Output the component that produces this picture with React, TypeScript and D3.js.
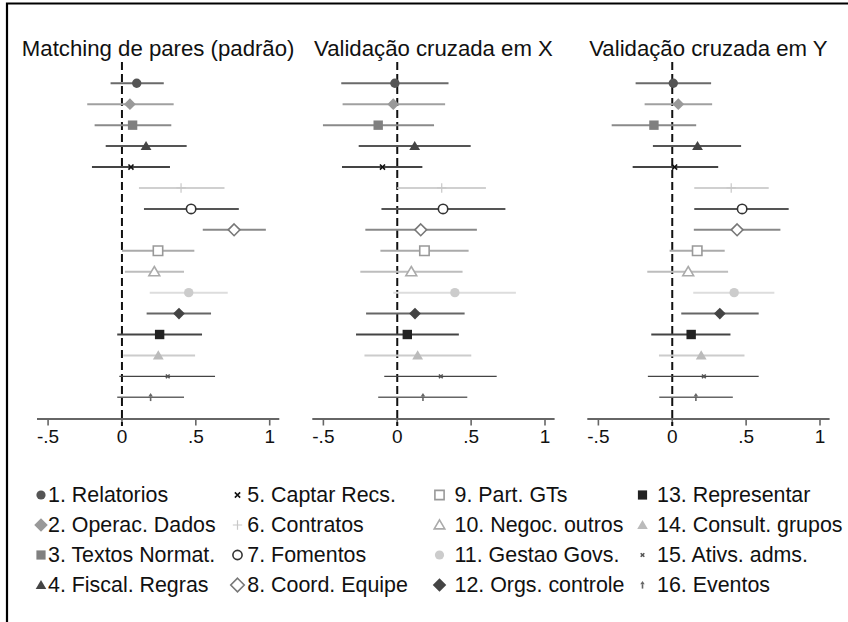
import React from "react";
import * as d3 from "d3";

const seriesLabels = [
  "1. Relatorios", "2. Operac. Dados", "3. Textos Normat.", "4. Fiscal. Regras",
  "5. Captar Recs.", "6. Contratos", "7. Fomentos", "8. Coord. Equipe",
  "9. Part. GTs", "10. Negoc. outros", "11. Gestao Govs.", "12. Orgs. controle",
  "13. Representar", "14. Consult. grupos", "15. Ativs. adms.", "16. Eventos",
];

const panelTitles = ["Matching de pares (padrão)", "Validação cruzada em X", "Validação cruzada em Y"];

const xTickValues = [-0.5, 0, 0.5, 1];
const xTickLabels = ["-.5", "0", ".5", "1"];

// Panel 1: Matching de pares (padrão)
const estMatching = [0.10, 0.054, 0.072, 0.163, 0.061, 0.40, 0.468, 0.759, 0.244, 0.219, 0.452, 0.386, 0.255, 0.246, 0.31, 0.194];
const loMatching = [-0.077, -0.235, -0.185, -0.11, -0.203, 0.115, 0.149, 0.547, 0.0, 0.02, 0.188, 0.167, -0.032, 0.009, -0.018, -0.032];
const hiMatching = [0.283, 0.35, 0.334, 0.438, 0.325, 0.694, 0.791, 0.974, 0.49, 0.42, 0.716, 0.603, 0.542, 0.495, 0.63, 0.42];

// Panel 2: Validação cruzada em X
const estCrossX = [-0.016, -0.027, -0.129, 0.118, -0.10, 0.301, 0.31, 0.159, 0.184, 0.095, 0.39, 0.12, 0.068, 0.138, 0.295, 0.174];
const loCrossX = [-0.379, -0.37, -0.503, -0.261, -0.374, 0.0, -0.107, -0.216, -0.114, -0.25, -0.027, -0.211, -0.279, -0.222, -0.088, -0.129];
const hiCrossX = [0.347, 0.324, 0.249, 0.497, 0.17, 0.60, 0.732, 0.539, 0.483, 0.442, 0.803, 0.456, 0.417, 0.501, 0.673, 0.474];

// Panel 3: Validação cruzada em Y
const estCrossY = [0.007, 0.041, -0.124, 0.171, 0.016, 0.399, 0.473, 0.439, 0.169, 0.108, 0.419, 0.322, 0.128, 0.196, 0.214, 0.16];
const loCrossY = [-0.248, -0.187, -0.41, -0.131, -0.268, 0.149, 0.149, 0.146, -0.018, -0.169, 0.142, 0.061, -0.142, -0.09, -0.165, -0.088];
const hiCrossY = [0.263, 0.27, 0.162, 0.466, 0.311, 0.653, 0.788, 0.732, 0.355, 0.378, 0.691, 0.585, 0.394, 0.489, 0.585, 0.41];

const panels = [
  { title: panelTitles[0], est: estMatching, lo: loMatching, hi: hiMatching },
  { title: panelTitles[1], est: estCrossX, lo: loCrossX, hi: hiCrossX },
  { title: panelTitles[2], est: estCrossY, lo: loCrossY, hi: hiCrossY },
];

// styles
const markerShapes = ["circle", "diamond", "square", "triangle", "x", "plus", "circle", "diamond", "square", "triangle", "circle", "diamond", "square", "triangle", "xs", "arrow"];
const markerHollow = [false, false, false, false, false, false, true, true, true, true, false, false, false, false, false, false];
const markerColors = ["#555555", "#999999", "#808080", "#444444", "#111111", "#c8c8c8", "#333333", "#777777", "#999999", "#aaaaaa", "#cccccc", "#444444", "#222222", "#bbbbbb", "#555555", "#666666"];
const lineColors = ["#6a6a6a", "#a0a0a0", "#8a8a8a", "#555555", "#444444", "#d0d0d0", "#555555", "#888888", "#aaaaaa", "#bdbdbd", "#dddddd", "#666666", "#444444", "#cccccc", "#444444", "#666666"];
const lineWidths = [2, 2, 2, 2, 2, 2, 2, 2, 2, 2, 2, 2, 2, 2, 1.4, 1.4];

function markerPath(shape: string, s: number): string {
  switch (shape) {
    case "circle":
      return d3.symbol(d3.symbolCircle, Math.PI * s * s)() as string;
    case "diamond":
      return `M0,${-s * 1.25}L${s * 1.25},0L0,${s * 1.25}L${-s * 1.25},0Z`;
    case "square":
      return `M${-s},${-s}H${s}V${s}H${-s}Z`;
    case "triangle":
      return `M0,${-s * 1.1}L${s * 1.15},${s * 0.85}L${-s * 1.15},${s * 0.85}Z`;
    case "x":
      return `M${-s * 0.55},${-s * 0.55}L${s * 0.55},${s * 0.55}M${-s * 0.55},${s * 0.55}L${s * 0.55},${-s * 0.55}`;
    case "xs":
      return `M${-s * 0.45},${-s * 0.45}L${s * 0.45},${s * 0.45}M${-s * 0.45},${s * 0.45}L${s * 0.45},${-s * 0.45}`;
    case "plus":
      return `M${-s * 0.85},0H${s * 0.85}M0,${-s * 0.85}V${s * 0.85}`;
    case "arrow":
      return `M0,${s * 0.9}V${-s * 0.2}`;
    default:
      return "";
  }
}

function Marker({ i, x, y, s }: { i: number; x: number; y: number; s: number }) {
  const shape = markerShapes[i];
  const c = markerColors[i];
  const hollow = markerHollow[i];
  const d = markerPath(shape, s);
  if (shape === "x" || shape === "xs" || shape === "plus") {
    return <path d={d} transform={`translate(${x},${y})`} fill="none" stroke={c} strokeWidth={shape === "plus" ? 1.2 : 1.6} />;
  }
  if (shape === "arrow") {
    return (
      <g transform={`translate(${x},${y})`}>
        <path d={d} stroke={c} strokeWidth={1.6} fill="none" />
        <path d={`M0,${-s}L${s * 0.55},${-s * 0.2}L${-s * 0.55},${-s * 0.2}Z`} fill={c} />
      </g>
    );
  }
  return (
    <path
      d={d}
      transform={`translate(${x},${y})`}
      fill={hollow ? "white" : c}
      stroke={hollow ? c : "none"}
      strokeWidth={hollow ? 1.6 : 0}
    />
  );
}

const W = 848;
const H = 622;
const panelLefts = [37, 312.3, 587.3];
const panelWidth = 242.3;
const xDomain: [number, number] = [-0.575, 1.065];
const rowTop = 83.3;
const rowBottom = 397.3;
const axisY = 419;
const font = "'Liberation Sans', Arial, sans-serif";

const legendSymX = [41, 237.5, 439.5, 642.5];
const legendTextX = [48, 247.3, 454.5, 657];
const legendRowY = [495, 525, 555, 585];

export default function App() {
  const y = d3.scalePoint<string>().domain(seriesLabels).range([rowTop, rowBottom]);

  return (
    <svg width={W} height={H} style={{ position: "fixed", left: 0, top: 0, background: "white" }} fontFamily={font}>
      <rect x={0} y={0} width={W} height={H} fill="white" />
      <path d={`M7,${H}V3.5H${W}`} fill="none" stroke="#000" strokeWidth={2.2} />
      {panels.map((p, pi) => {
        const x = d3.scaleLinear().domain(xDomain).range([panelLefts[pi], panelLefts[pi] + panelWidth]);
        const x0 = x(0);
        return (
          <g key={pi}>
            <text x={(x.range()[0] + x.range()[1]) / 2} y={56} textAnchor="middle" fontSize={22.2} fill="#111">
              {p.title}
            </text>
            {/* axis */}
            <line x1={x.range()[0]} x2={x.range()[1]} y1={axisY} y2={axisY} stroke="#666" strokeWidth={2} />
            {xTickValues.map((t, ti) => (
              <g key={ti}>
                <line x1={x(t)} x2={x(t)} y1={axisY} y2={axisY + 6.5} stroke="#666" strokeWidth={1.6} />
                <text x={x(t)} y={443} textAnchor="middle" fontSize={19} fill="#111">
                  {xTickLabels[ti]}
                </text>
              </g>
            ))}
            {/* zero reference line */}
            <line x1={x0} x2={x0} y1={62} y2={axisY + 7} stroke="#111" strokeWidth={2} strokeDasharray="8,4" />
            {/* CIs */}
            {seriesLabels.map((lab, i) => (
              <line key={"ci" + i} x1={x(p.lo[i])} x2={x(p.hi[i])} y1={y(lab)} y2={y(lab)} stroke={lineColors[i]} strokeWidth={lineWidths[i]} />
            ))}
            {seriesLabels.map((lab, i) => (
              <Marker key={"m" + i} i={i} x={x(p.est[i])} y={y(lab) as number} s={i >= 14 ? 4.2 : i === 4 ? 4.6 : i === 5 ? 5.5 : 4.7} />
            ))}
          </g>
        );
      })}
      {/* legend */}
      {seriesLabels.map((lab, i) => {
        const col = Math.floor(i / 4);
        const row = i % 4;
        const cy = legendRowY[row];
        return (
          <g key={"lg" + i}>
            <Marker i={i} x={legendSymX[col]} y={cy} s={i >= 14 ? 4 : i === 4 ? 4.8 : i === 5 ? 5.5 : i === 1 || i === 7 || i === 11 ? 5.4 : 4.6} />
            <text x={legendTextX[col]} y={cy + 6.5} fontSize={21.4} fill="#111">
              {lab}
            </text>
          </g>
        );
      })}
    </svg>
  );
}
